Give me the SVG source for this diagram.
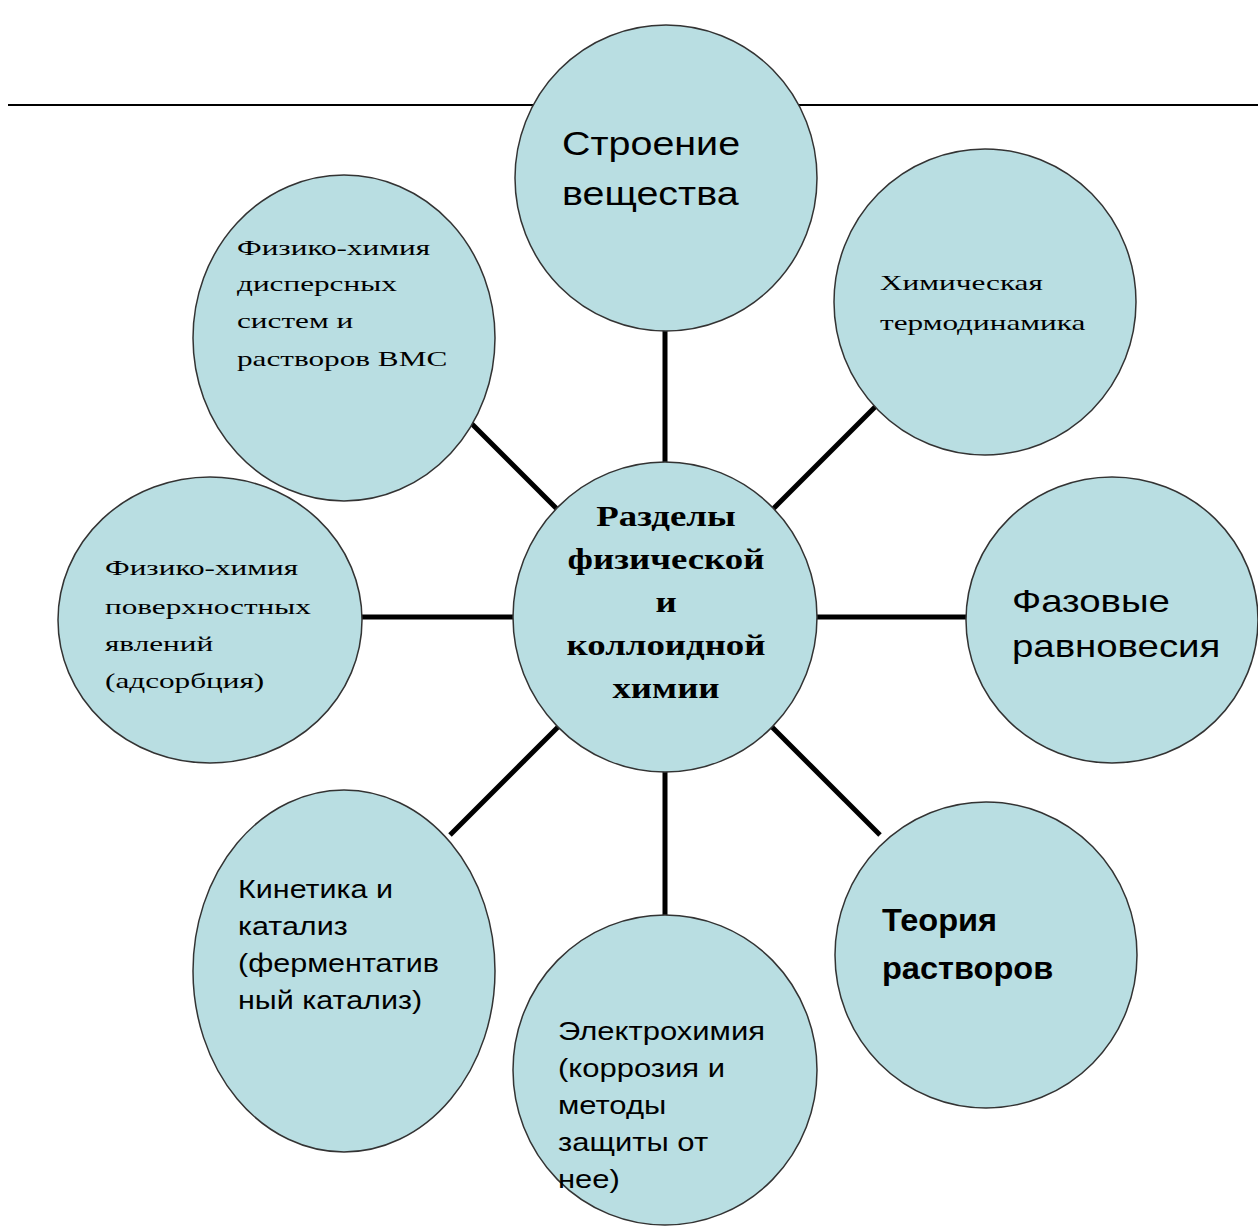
<svg xmlns="http://www.w3.org/2000/svg" width="1258" height="1228" viewBox="0 0 1258 1228">
<style>
.n{fill:#b9dee2;stroke:#333;stroke-width:1.5}
.c line{stroke:#000;stroke-width:5}
.sans{font-family:"Liberation Sans",Arial,sans-serif;fill:#000}
.serif{font-family:"Liberation Serif","Times New Roman",serif;fill:#000}
</style>
<rect width="1258" height="1228" fill="#fff"/>
<line x1="8" y1="105" x2="1258" y2="105" stroke="#000" stroke-width="2"/>
<g class="c" id="connectors">
<line x1="665" y1="330" x2="665" y2="465"/>
<line x1="772" y1="510" x2="880" y2="402"/>
<line x1="816" y1="617" x2="968" y2="617"/>
<line x1="772" y1="727" x2="880" y2="835"/>
<line x1="665" y1="770" x2="665" y2="916"/>
<line x1="558" y1="727" x2="450" y2="835"/>
<line x1="362" y1="617" x2="514" y2="617"/>
<line x1="558" y1="510" x2="452" y2="404"/>
</g>
<g id="n-top"><ellipse class="n" cx="666" cy="178" rx="151" ry="153"/>
<text class="sans" font-size="34" transform="translate(562,0) scale(1.16,1)"><tspan x="0" y="155">Строение</tspan><tspan x="0" y="205">вещества</tspan></text></g>
<g id="n-tr"><ellipse class="n" cx="985" cy="302" rx="151" ry="153"/>
<text class="serif" font-size="22" transform="translate(880,0) scale(1.42,1)"><tspan x="0" y="290">Химическая</tspan><tspan x="0" y="330">термодинамика</tspan></text></g>
<g id="n-r"><ellipse class="n" cx="1112" cy="620" rx="146" ry="143"/>
<text class="sans" font-size="32" transform="translate(1012,0) scale(1.2,1)"><tspan x="0" y="612">Фазовые</tspan><tspan x="0" y="657">равновесия</tspan></text></g>
<g id="n-br"><ellipse class="n" cx="986" cy="955" rx="151" ry="153"/>
<text class="sans" font-size="31" font-weight="bold" transform="translate(882,0) scale(1.05,1)"><tspan x="0" y="931">Теория</tspan><tspan x="0" y="979">растворов</tspan></text></g>
<g id="n-b"><ellipse class="n" cx="665" cy="1070" rx="152" ry="155"/>
<text class="sans" font-size="25" transform="translate(558,0) scale(1.24,1)"><tspan x="0" y="1040">Электрохимия</tspan><tspan x="0" y="1077">(коррозия и</tspan><tspan x="0" y="1114">методы</tspan><tspan x="0" y="1151">защиты от</tspan><tspan x="0" y="1188">нее)</tspan></text></g>
<g id="n-bl"><ellipse class="n" cx="344" cy="971" rx="151" ry="181"/>
<text class="sans" font-size="25" transform="translate(238,0) scale(1.22,1)"><tspan x="0" y="898">Кинетика и</tspan><tspan x="0" y="935">катализ</tspan><tspan x="0" y="972">(ферментатив</tspan><tspan x="0" y="1009">ный катализ)</tspan></text></g>
<g id="n-l"><ellipse class="n" cx="210" cy="620" rx="152" ry="143"/>
<text class="serif" font-size="22" transform="translate(105,0) scale(1.42,1)"><tspan x="0" y="575">Физико-химия</tspan><tspan x="0" y="614">поверхностных</tspan><tspan x="0" y="651">явлений</tspan><tspan x="0" y="688">(адсорбция)</tspan></text></g>
<g id="n-tl"><ellipse class="n" cx="344" cy="338" rx="151" ry="163"/>
<text class="serif" font-size="22" transform="translate(237,0) scale(1.42,1)"><tspan x="0" y="255">Физико-химия</tspan><tspan x="0" y="291">дисперсных</tspan><tspan x="0" y="328">систем и</tspan><tspan x="0" y="366">растворов ВМС</tspan></text></g>
<g id="n-center"><ellipse class="n" cx="665" cy="617" rx="152" ry="155"/>
<text class="serif" font-size="29" font-weight="bold" text-anchor="middle" transform="translate(666,0) scale(1.27,1)"><tspan x="0" y="526">Разделы</tspan><tspan x="0" y="569">физической</tspan><tspan x="0" y="612">и</tspan><tspan x="0" y="655">коллоидной</tspan><tspan x="0" y="698">химии</tspan></text></g>
</svg>
